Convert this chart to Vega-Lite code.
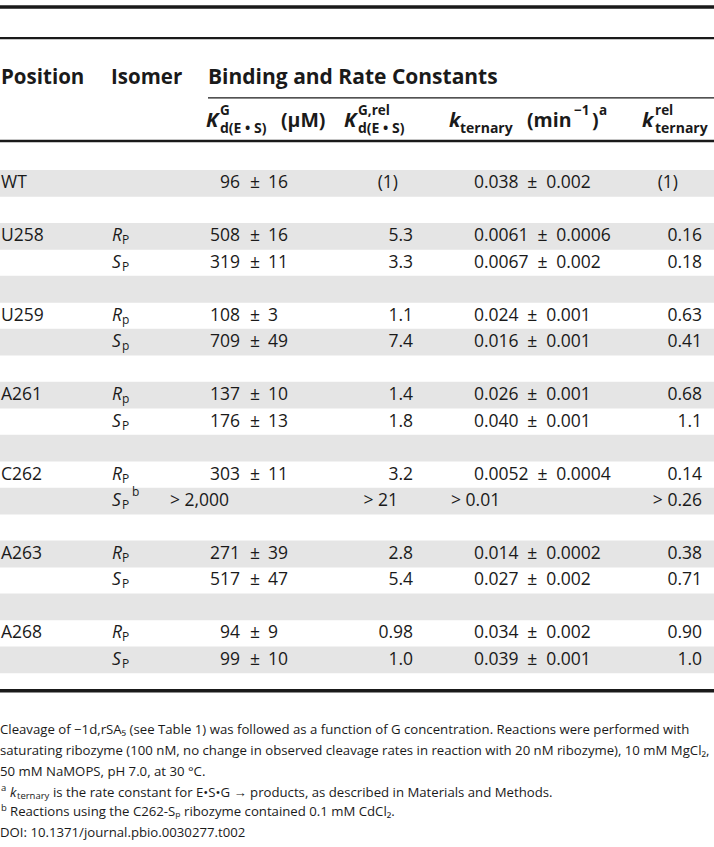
{
  "$schema": "https://vega.github.io/schema/vega-lite/v6.json",
  "width": 714,
  "height": 847,
  "padding": 0,
  "autosize": {"type": "none"},
  "background": "white",
  "config": {
    "view": {"stroke": null},
    "text": {"font": "Open Sans", "fontSize": 17.5, "baseline": "middle", "align": "left", "color": "#1a1a1a"},
    "rule": {"color": "#1a1a1a"}
  },
  "datasets": {
    "rows": [
      {"row": 0, "position": "WT", "kd": "96", "kdErr": "16", "kdrelAlt": "(1)", "kt": "0.038\u2002±\u20020.002", "ktrelAlt": "(1)"},
      {"row": 1},
      {"row": 2, "position": "U258", "iso": "R", "isoSub": "P", "kd": "508", "kdErr": "16", "kdrel": "5.3", "kt": "0.0061\u2002±\u20020.0006", "ktrel": "0.16"},
      {"row": 3, "iso": "S", "isoSub": "P", "kd": "319", "kdErr": "11", "kdrel": "3.3", "kt": "0.0067\u2002±\u20020.002", "ktrel": "0.18"},
      {"row": 4},
      {"row": 5, "position": "U259", "iso": "R", "isoSub": "p", "kd": "108", "kdErr": "3", "kdrel": "1.1", "kt": "0.024\u2002±\u20020.001", "ktrel": "0.63"},
      {"row": 6, "iso": "S", "isoSub": "p", "kd": "709", "kdErr": "49", "kdrel": "7.4", "kt": "0.016\u2002±\u20020.001", "ktrel": "0.41"},
      {"row": 7},
      {"row": 8, "position": "A261", "iso": "R", "isoSub": "p", "kd": "137", "kdErr": "10", "kdrel": "1.4", "kt": "0.026\u2002±\u20020.001", "ktrel": "0.68"},
      {"row": 9, "iso": "S", "isoSub": "P", "kd": "176", "kdErr": "13", "kdrel": "1.8", "kt": "0.040\u2002±\u20020.001", "ktrel": "1.1"},
      {"row": 10},
      {"row": 11, "position": "C262", "iso": "R", "isoSub": "P", "kd": "303", "kdErr": "11", "kdrel": "3.2", "kt": "0.0052\u2002±\u20020.0004", "ktrel": "0.14"},
      {"row": 12, "iso": "S", "isoSub": "P", "isoSup": "b", "kdAlt": "> 2,000", "kdrelAlt": "> 21", "ktAlt": "> 0.01", "ktrel": "> 0.26"},
      {"row": 13},
      {"row": 14, "position": "A263", "iso": "R", "isoSub": "P", "kd": "271", "kdErr": "39", "kdrel": "2.8", "kt": "0.014\u2002±\u20020.0002", "ktrel": "0.38"},
      {"row": 15, "iso": "S", "isoSub": "P", "kd": "517", "kdErr": "47", "kdrel": "5.4", "kt": "0.027\u2002±\u20020.002", "ktrel": "0.71"},
      {"row": 16},
      {"row": 17, "position": "A268", "iso": "R", "isoSub": "P", "kd": "94", "kdErr": "9", "kdrel": "0.98", "kt": "0.034\u2002±\u20020.002", "ktrel": "0.90"},
      {"row": 18, "iso": "S", "isoSub": "P", "kd": "99", "kdErr": "10", "kdrel": "1.0", "kt": "0.039\u2002±\u20020.001", "ktrel": "1.0"}
    ]
  },
  "data": {"name": "rows"},
  "layer": [
    {"transform": [{"filter": "datum.row % 2 === 0"}],
     "mark": {"type": "bar", "orient": "horizontal", "size": 26.8, "color": "#e5e5e5"},
     "encoding": {
       "x": {"datum": 0, "type": "quantitative", "scale": {"domain": [0, 714], "nice": false, "zero": false}, "axis": null},
       "x2": {"datum": 714},
       "y": {"field": "row", "type": "quantitative", "scale": {"domain": [-6.7376, 24.8787], "reverse": true, "nice": false, "zero": false}, "axis": null}}},

    {"data": {"values": [{}]}, "mark": {"type": "rule", "strokeWidth": 3.5},
     "encoding": {"x": {"datum": 0, "type": "quantitative"}, "x2": {"datum": 714}, "y": {"datum": -6.663, "type": "quantitative"}}},
    {"data": {"values": [{}]}, "mark": {"type": "rule", "strokeWidth": 2.2},
     "encoding": {"x": {"datum": 0, "type": "quantitative"}, "x2": {"datum": 714}, "y": {"datum": -5.487, "type": "quantitative"}}},
    {"data": {"values": [{}]}, "mark": {"type": "rule", "strokeWidth": 1.3},
     "encoding": {"x": {"datum": 208, "type": "quantitative"}, "x2": {"datum": 714}, "y": {"datum": -3.229, "type": "quantitative"}}},
    {"data": {"values": [{}]}, "mark": {"type": "rule", "strokeWidth": 2.5},
     "encoding": {"x": {"datum": 0, "type": "quantitative"}, "x2": {"datum": 714}, "y": {"datum": -1.605, "type": "quantitative"}}},
    {"data": {"values": [{}]}, "mark": {"type": "rule", "strokeWidth": 3.5},
     "encoding": {"x": {"datum": 0, "type": "quantitative"}, "x2": {"datum": 714}, "y": {"datum": 19.167, "type": "quantitative"}}},

    {"transform": [{"filter": "datum.position"}], "mark": {"type": "text"},
     "encoding": {"x": {"datum": 1, "type": "quantitative"}, "y": {"field": "row", "type": "quantitative"}, "text": {"field": "position"}}},
    {"transform": [{"filter": "datum.iso"}], "mark": {"type": "text", "fontStyle": "italic"},
     "encoding": {"x": {"datum": 112, "type": "quantitative"}, "y": {"field": "row", "type": "quantitative"}, "text": {"field": "iso"}}},
    {"transform": [{"filter": "datum.isoSub"}], "mark": {"type": "text", "fontSize": 12, "dy": 4},
     "encoding": {"x": {"datum": 122, "type": "quantitative"}, "y": {"field": "row", "type": "quantitative"}, "text": {"field": "isoSub"}}},
    {"transform": [{"filter": "datum.isoSup"}], "mark": {"type": "text", "fontSize": 12, "dy": -9},
     "encoding": {"x": {"datum": 132, "type": "quantitative"}, "y": {"field": "row", "type": "quantitative"}, "text": {"field": "isoSup"}}},
    {"transform": [{"filter": "datum.kd"}], "mark": {"type": "text", "align": "right"},
     "encoding": {"x": {"datum": 240, "type": "quantitative"}, "y": {"field": "row", "type": "quantitative"}, "text": {"field": "kd"}}},
    {"transform": [{"filter": "datum.kdErr"}], "mark": {"type": "text", "align": "center", "text": "±"},
     "encoding": {"x": {"datum": 255, "type": "quantitative"}, "y": {"field": "row", "type": "quantitative"}}},
    {"transform": [{"filter": "datum.kdErr"}], "mark": {"type": "text"},
     "encoding": {"x": {"datum": 268, "type": "quantitative"}, "y": {"field": "row", "type": "quantitative"}, "text": {"field": "kdErr"}}},
    {"transform": [{"filter": "datum.kdAlt"}], "mark": {"type": "text"},
     "encoding": {"x": {"datum": 170, "type": "quantitative"}, "y": {"field": "row", "type": "quantitative"}, "text": {"field": "kdAlt"}}},
    {"transform": [{"filter": "datum.kdrel"}], "mark": {"type": "text", "align": "right"},
     "encoding": {"x": {"datum": 413, "type": "quantitative"}, "y": {"field": "row", "type": "quantitative"}, "text": {"field": "kdrel"}}},
    {"transform": [{"filter": "datum.kdrelAlt"}], "mark": {"type": "text", "align": "right"},
     "encoding": {"x": {"datum": 398, "type": "quantitative"}, "y": {"field": "row", "type": "quantitative"}, "text": {"field": "kdrelAlt"}}},
    {"transform": [{"filter": "datum.kt"}], "mark": {"type": "text"},
     "encoding": {"x": {"datum": 474, "type": "quantitative"}, "y": {"field": "row", "type": "quantitative"}, "text": {"field": "kt"}}},
    {"transform": [{"filter": "datum.ktAlt"}], "mark": {"type": "text"},
     "encoding": {"x": {"datum": 451, "type": "quantitative"}, "y": {"field": "row", "type": "quantitative"}, "text": {"field": "ktAlt"}}},
    {"transform": [{"filter": "datum.ktrel"}], "mark": {"type": "text", "align": "right"},
     "encoding": {"x": {"datum": 702, "type": "quantitative"}, "y": {"field": "row", "type": "quantitative"}, "text": {"field": "ktrel"}}},
    {"transform": [{"filter": "datum.ktrelAlt"}], "mark": {"type": "text", "align": "right"},
     "encoding": {"x": {"datum": 678, "type": "quantitative"}, "y": {"field": "row", "type": "quantitative"}, "text": {"field": "ktrelAlt"}}},

    {"data": {"values": [{}]}, "mark": {"type": "text", "text": "Position", "fontWeight": "bold", "fontSize": 20.5},
     "encoding": {"x": {"datum": 1, "type": "quantitative"}, "y": {"datum": -3.975, "type": "quantitative"}}},
    {"data": {"values": [{}]}, "mark": {"type": "text", "text": "Isomer", "fontWeight": "bold", "fontSize": 20.5},
     "encoding": {"x": {"datum": 111, "type": "quantitative"}, "y": {"datum": -3.975, "type": "quantitative"}}},
    {"data": {"values": [{}]}, "mark": {"type": "text", "text": "Binding and Rate Constants", "fontWeight": "bold", "fontSize": 21},
     "encoding": {"x": {"datum": 208, "type": "quantitative"}, "y": {"datum": -3.975, "type": "quantitative"}}},

    {"data": {"values": [{}]}, "mark": {"type": "text", "text": "K", "fontWeight": "bold", "fontStyle": "italic", "fontSize": 20},
     "encoding": {"x": {"datum": 206, "type": "quantitative"}, "y": {"datum": -2.37, "type": "quantitative"}}},
    {"data": {"values": [{}]}, "mark": {"type": "text", "text": "G", "fontWeight": "bold", "fontSize": 13.5},
     "encoding": {"x": {"datum": 220, "type": "quantitative"}, "y": {"datum": -2.72, "type": "quantitative"}}},
    {"data": {"values": [{}]}, "mark": {"type": "text", "text": "d(E • S)", "fontWeight": "bold", "fontSize": 14},
     "encoding": {"x": {"datum": 220, "type": "quantitative"}, "y": {"datum": -2.05, "type": "quantitative"}}},
    {"data": {"values": [{}]}, "mark": {"type": "text", "text": "(μM)", "fontWeight": "bold", "fontSize": 19.5},
     "encoding": {"x": {"datum": 281, "type": "quantitative"}, "y": {"datum": -2.37, "type": "quantitative"}}},
    {"data": {"values": [{}]}, "mark": {"type": "text", "text": "K", "fontWeight": "bold", "fontStyle": "italic", "fontSize": 20},
     "encoding": {"x": {"datum": 344, "type": "quantitative"}, "y": {"datum": -2.37, "type": "quantitative"}}},
    {"data": {"values": [{}]}, "mark": {"type": "text", "text": "G,rel", "fontWeight": "bold", "fontSize": 13.5},
     "encoding": {"x": {"datum": 358, "type": "quantitative"}, "y": {"datum": -2.72, "type": "quantitative"}}},
    {"data": {"values": [{}]}, "mark": {"type": "text", "text": "d(E • S)", "fontWeight": "bold", "fontSize": 14},
     "encoding": {"x": {"datum": 358, "type": "quantitative"}, "y": {"datum": -2.05, "type": "quantitative"}}},
    {"data": {"values": [{}]}, "mark": {"type": "text", "text": "k", "fontWeight": "bold", "fontStyle": "italic", "fontSize": 20},
     "encoding": {"x": {"datum": 449, "type": "quantitative"}, "y": {"datum": -2.37, "type": "quantitative"}}},
    {"data": {"values": [{}]}, "mark": {"type": "text", "text": "ternary", "fontWeight": "bold", "fontSize": 14},
     "encoding": {"x": {"datum": 460, "type": "quantitative"}, "y": {"datum": -2.05, "type": "quantitative"}}},
    {"data": {"values": [{}]}, "mark": {"type": "text", "text": "(min", "fontWeight": "bold", "fontSize": 19.5},
     "encoding": {"x": {"datum": 527, "type": "quantitative"}, "y": {"datum": -2.37, "type": "quantitative"}}},
    {"data": {"values": [{}]}, "mark": {"type": "text", "text": "−1", "fontWeight": "bold", "fontSize": 13.5},
     "encoding": {"x": {"datum": 574, "type": "quantitative"}, "y": {"datum": -2.72, "type": "quantitative"}}},
    {"data": {"values": [{}]}, "mark": {"type": "text", "text": ")", "fontWeight": "bold", "fontSize": 19.5},
     "encoding": {"x": {"datum": 592, "type": "quantitative"}, "y": {"datum": -2.37, "type": "quantitative"}}},
    {"data": {"values": [{}]}, "mark": {"type": "text", "text": "a", "fontWeight": "bold", "fontSize": 13.5},
     "encoding": {"x": {"datum": 599, "type": "quantitative"}, "y": {"datum": -2.72, "type": "quantitative"}}},
    {"data": {"values": [{}]}, "mark": {"type": "text", "text": "k", "fontWeight": "bold", "fontStyle": "italic", "fontSize": 20},
     "encoding": {"x": {"datum": 642, "type": "quantitative"}, "y": {"datum": -2.37, "type": "quantitative"}}},
    {"data": {"values": [{}]}, "mark": {"type": "text", "text": "rel", "fontWeight": "bold", "fontSize": 13.5},
     "encoding": {"x": {"datum": 655, "type": "quantitative"}, "y": {"datum": -2.72, "type": "quantitative"}}},
    {"data": {"values": [{}]}, "mark": {"type": "text", "text": "ternary", "fontWeight": "bold", "fontSize": 14},
     "encoding": {"x": {"datum": 655, "type": "quantitative"}, "y": {"datum": -2.05, "type": "quantitative"}}},

    {"data": {"values": [{}]}, "mark": {"type": "text", "text": "Cleavage of −1d,rSA₅ (see Table 1) was followed as a function of G concentration. Reactions were performed with", "fontSize": 13.2},
     "encoding": {"x": {"datum": 0, "type": "quantitative"}, "y": {"datum": 20.659, "type": "quantitative"}}},
    {"data": {"values": [{}]}, "mark": {"type": "text", "text": "saturating ribozyme (100 nM, no change in observed cleavage rates in reaction with 20 nM ribozyme), 10 mM MgCl₂,", "fontSize": 13.2},
     "encoding": {"x": {"datum": 0, "type": "quantitative"}, "y": {"datum": 21.445, "type": "quantitative"}}},
    {"data": {"values": [{}]}, "mark": {"type": "text", "text": "50 mM NaMOPS, pH 7.0, at 30 °C.", "fontSize": 13.2},
     "encoding": {"x": {"datum": 0, "type": "quantitative"}, "y": {"datum": 22.228, "type": "quantitative"}}},
    {"data": {"values": [{}]}, "mark": {"type": "text", "text": "a", "fontSize": 9.5},
     "encoding": {"x": {"datum": 1, "type": "quantitative"}, "y": {"datum": 22.84, "type": "quantitative"}}},
    {"data": {"values": [{}]}, "mark": {"type": "text", "text": "k", "fontSize": 13.2, "fontStyle": "italic"},
     "encoding": {"x": {"datum": 10, "type": "quantitative"}, "y": {"datum": 23.012, "type": "quantitative"}}},
    {"data": {"values": [{}]}, "mark": {"type": "text", "text": "ternary", "fontSize": 9.5},
     "encoding": {"x": {"datum": 17, "type": "quantitative"}, "y": {"datum": 23.16, "type": "quantitative"}}},
    {"data": {"values": [{}]}, "mark": {"type": "text", "text": "is the rate constant for E•S•G → products, as described in Materials and Methods.", "fontSize": 13.2},
     "encoding": {"x": {"datum": 53, "type": "quantitative"}, "y": {"datum": 23.012, "type": "quantitative"}}},
    {"data": {"values": [{}]}, "mark": {"type": "text", "text": "b", "fontSize": 9.5},
     "encoding": {"x": {"datum": 1, "type": "quantitative"}, "y": {"datum": 23.59, "type": "quantitative"}}},
    {"data": {"values": [{}]}, "mark": {"type": "text", "text": "Reactions using the C262-Sₚ ribozyme contained 0.1 mM CdCl₂.", "fontSize": 13.2},
     "encoding": {"x": {"datum": 10, "type": "quantitative"}, "y": {"datum": 23.759, "type": "quantitative"}}},
    {"data": {"values": [{}]}, "mark": {"type": "text", "text": "DOI: 10.1371/journal.pbio.0030277.t002", "fontSize": 13.2},
     "encoding": {"x": {"datum": 0, "type": "quantitative"}, "y": {"datum": 24.543, "type": "quantitative"}}}
  ]
}
